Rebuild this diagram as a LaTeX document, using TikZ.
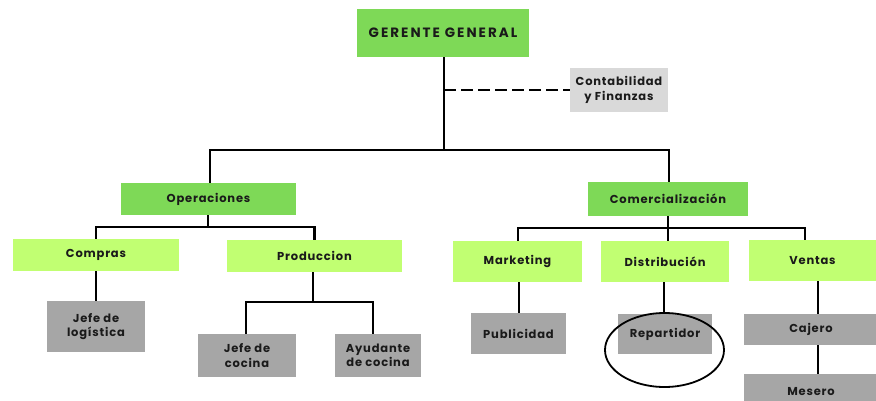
\documentclass[tikz,border=0pt]{standalone}
\usepackage{fontspec}
\setmainfont{Poppins}[LetterSpace=7]
\newfontfamily\titlefont{Poppins}[LetterSpace=15]
\usetikzlibrary{shapes.geometric}
\definecolor{boxgreen}{HTML}{7ED957}
\definecolor{boxlime}{HTML}{C1FF72}
\definecolor{boxgray}{HTML}{A6A6A6}
\definecolor{boxlight}{HTML}{D9D9D9}
\definecolor{ink}{HTML}{1A1A1A}
\tikzset{
  x=1pt, y=-1pt,
  box/.style={rectangle, inner sep=0pt, align=center, text=ink,
    font=\bfseries\fontsize{11.5}{14.5}\selectfont},
  head/.style={box, fill=boxgreen},
  area/.style={box, fill=boxlime},
  role/.style={box, fill=boxgray},
  staff/.style={box, fill=boxlight},
  link/.style={line width=2.4pt, black},
}
\begin{document}
\begin{tikzpicture}
\useasboundingbox[fill=white] (0,0) rectangle (876,401);

% top level
\node[head, minimum width=172, minimum height=48, font=\titlefont\bfseries\fontsize{13.5}{16}\selectfont] (gg) at (443,33) {GERENTE GENERAL};
\node[staff, minimum width=98, minimum height=44] (cf) at (619,90) {Contabilidad\\y Finanzas};

% departments
\node[head, minimum width=175, minimum height=32] (op) at (208.5,199) {Operaciones};
\node[head, minimum width=160, minimum height=34] (com) at (668,199) {Comercialización};

% areas
\node[area, minimum width=166, minimum height=32] (comp) at (96,255) {Compras};
\node[area, minimum width=175, minimum height=32] (prod) at (314.5,256) {Produccion};
\node[area, minimum width=129, minimum height=41] (mk) at (517.5,261.5) {Marketing};
\node[area, minimum width=128, minimum height=41] (dist) at (665,261.5) {Distribución};
\node[area, minimum width=127, minimum height=41] (ven) at (812.5,260.5) {Ventas};

% roles
\node[role, minimum width=98, minimum height=51] (jl) at (96,326.5) {Jefe de\\logística};
\node[role, minimum width=98, minimum height=43] (jc) at (247,355.5) {Jefe de\\cocina};
\node[role, minimum width=86, minimum height=43] (ac) at (378,355.5) {Ayudante\\de cocina};
\node[role, minimum width=95, minimum height=41] (pub) at (518.5,333.5) {Publicidad};
\node[role, minimum width=94, minimum height=40] (rep) at (665,334) {Repartidor};
\node[role, minimum width=134, minimum height=31] (caj) at (811,329.5) {Cajero};
\node[role, minimum width=134, minimum height=36] (mes) at (811,392) {Mesero};

% highlight around the delivery role
\node[ellipse, draw, line width=1.8pt, minimum width=119, minimum height=74] (mark) at (664.5,350) {};

% junction points
\coordinate (b0) at (444,150);
\coordinate (b1) at (208,227);
\coordinate (b2) at (313,302);
\coordinate (b3) at (668,228);

% connectors
\draw[link] (gg.south -| b0) -- (b0);
\draw[link] (op.north -| 210,0) |- (b0) -| (com.north -| 669,0);
\draw[link, dashed, dash pattern=on 12pt off 5pt, line width=2.8pt] (b0 |- cf.west) -- (cf.west);

\draw[link] (op.south -| b1) -- (b1);
\draw[link] (comp.north) |- (b1) -| (prod.north);
\draw[link] (comp.south) -- (jl.north);
\draw[link] (prod.south -| b2) -- (b2);
\draw[link] (jc.north -| 246,0) |- (b2) -| (ac.north -| 373,0);

\draw[link] (com.south) -- (b3);
\draw[link] (mk.north -| 518,0) |- (b3) -| (ven.north -| 805,0);
\draw[link] (b3) -- (dist.north -| b3);
\draw[link] (mk.south -| 519,0) -- (pub.north -| 519,0);
\draw[link] (dist.south -| 664,0) -- (rep.north -| 664,0);
\draw[link] (ven.south -| 818,0) -- (caj.north -| 818,0);
\draw[link] (caj.south -| 818,0) -- (mes.north -| 818,0);
\end{tikzpicture}
\end{document}
